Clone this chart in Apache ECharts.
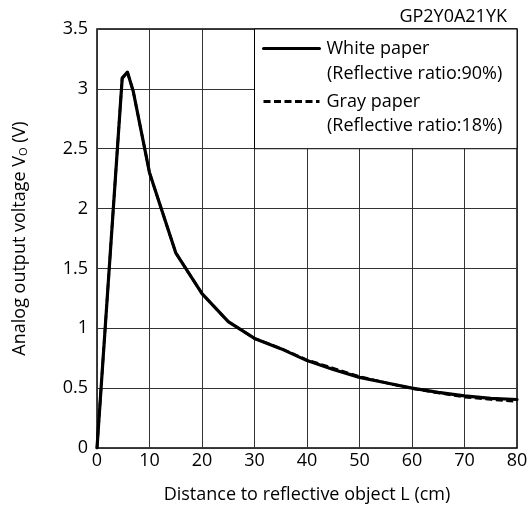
<!DOCTYPE html>
<html>
<head>
<meta charset="utf-8">
<script src="https://cdn.jsdelivr.net/npm/echarts@6/dist/echarts.min.js"></script>
<style>html,body{margin:0;padding:0;background:#fff;}#c{width:532px;height:519px;}</style>
</head>
<body>
<div id="c"></div>
<script>
const xTicks = [0, 10, 20, 30, 40, 50, 60, 70, 80];
const yTicks = [0, 0.5, 1, 1.5, 2, 2.5, 3, 3.5];
const whiteDist = [0, 4.8, 5.8, 6.9, 10, 15, 20, 25, 30, 35, 40, 45, 50, 55, 60, 65, 70, 75, 80];
const whiteVolt = [0, 3.09, 3.14, 2.98, 2.3, 1.63, 1.29, 1.055, 0.915, 0.83, 0.73, 0.655, 0.59, 0.545, 0.5, 0.465, 0.435, 0.415, 0.405];
const grayDist = [0, 4.8, 5.8, 6.9, 10, 15, 20, 25, 30, 35, 40, 45, 50, 55, 60, 65, 70, 75, 80];
const grayVolt = [0, 3.09, 3.14, 2.98, 2.3, 1.63, 1.29, 1.055, 0.915, 0.833, 0.736, 0.667, 0.597, 0.545, 0.497, 0.46, 0.425, 0.405, 0.388];
const seriesNames = ['White paper', 'Gray paper'];
const seriesNotes = ['(Reflective ratio:90%)', '(Reflective ratio:18%)'];
const modelName = 'GP2Y0A21YK';

const FONT = '"Open Sans", "Noto Sans", sans-serif';
const FS = 18;
const chart = echarts.init(document.getElementById('c'));
const pair = (xs, ys) => xs.map((x, i) => [x, ys[i]]);

const legendBase = {
  orient: 'vertical', left: 262, itemWidth: 56, itemHeight: 26,
  itemStyle: { opacity: 0 },
  lineStyle: { width: 3 },
  textStyle: { fontFamily: FONT, fontSize: FS, color: '#000', padding: [0, 0, 0, 2] },
  inactiveColor: '#000', padding: 0
};

chart.setOption({
  animation: false,
  backgroundColor: '#fff',
  grid: { left: 97, right: 15, top: 29, bottom: 71, show: true, borderColor: '#000', borderWidth: 1.5, backgroundColor: 'transparent' },
  xAxis: {
    type: 'value', min: 0, max: 80, interval: 10,
    name: 'Distance to reflective object L (cm)', nameLocation: 'middle', nameGap: 38,
    nameTextStyle: { fontFamily: FONT, fontSize: FS, color: '#000' },
    axisLine: { show: false }, axisTick: { show: false },
    axisLabel: { fontFamily: FONT, fontSize: FS, color: '#000', margin: 4 },
    splitLine: { show: true, lineStyle: { color: '#333', width: 1 } }
  },
  yAxis: {
    type: 'value', min: 0, max: 3.5, interval: 0.5,
    name: '{a|Analog output voltage V}{s|O}{a| (V)}', nameLocation: 'middle', nameGap: 68, nameRotate: 90,
    nameTextStyle: { fontFamily: FONT, color: '#000', rich: {
      a: { fontFamily: FONT, fontSize: FS, color: '#000' },
      s: { fontFamily: FONT, fontSize: 11, color: '#000', verticalAlign: 'bottom', padding: [8, 0, 0, 0] }
    } },
    axisLine: { show: false }, axisTick: { show: false },
    axisLabel: { fontFamily: FONT, fontSize: FS, color: '#000', margin: 9 },
    splitLine: { show: true, lineStyle: { color: '#333', width: 1 } }
  },
  legend: [
    Object.assign({}, legendBase, { top: 38, data: [seriesNames[0]] }),
    Object.assign({}, legendBase, { top: 91, data: [seriesNames[1]] })
  ],
  graphic: [
    { type: 'text', x: 507, y: 17, z: 100, style: { text: modelName, fontFamily: FONT, fontSize: FS, fill: '#000', align: 'right', verticalAlign: 'middle' } },
    { type: 'text', x: 327, y: 74, z: 100, style: { text: seriesNotes[0], fontFamily: FONT, fontSize: FS, fill: '#000', align: 'left', verticalAlign: 'middle' } },
    { type: 'text', x: 327, y: 126, z: 100, style: { text: seriesNotes[1], fontFamily: FONT, fontSize: FS, fill: '#000', align: 'left', verticalAlign: 'middle' } }
  ],
  series: [
    {
      name: seriesNames[0], type: 'line', data: pair(whiteDist, whiteVolt), showSymbol: false, symbol: 'none',
      color: '#000', z: 3,
      lineStyle: { color: '#000', width: 3.2, cap: 'round', join: 'round' },
      markArea: {
        silent: true,
        itemStyle: { color: '#fff', borderColor: '#000', borderWidth: 1 },
        data: [[{ coord: [30, 2.5] }, { coord: [80, 3.5] }]]
      }
    },
    {
      name: seriesNames[1], type: 'line', data: pair(grayDist, grayVolt), showSymbol: false, symbol: 'none',
      color: '#000', z: 4,
      lineStyle: { color: '#000', width: 2.6, type: [7, 3.5] }
    }
  ]
});
</script>
</body>
</html>
